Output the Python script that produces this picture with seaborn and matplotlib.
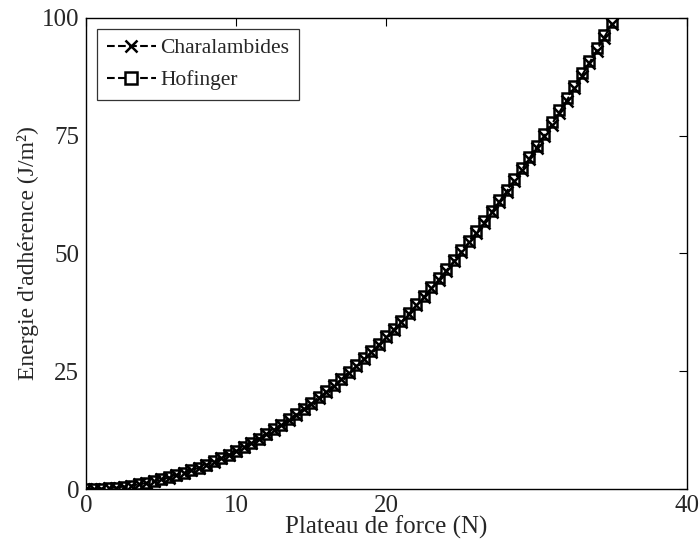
import numpy as np
import pandas as pd
import matplotlib
matplotlib.use("Agg")
import matplotlib.pyplot as plt
import seaborn as sns

# Plateau de force (N), one point every 0.5 N
force = [0.0, 0.5, 1.0, 1.5, 2.0, 2.5, 3.0, 3.5, 4.0, 4.5,
         5.0, 5.5, 6.0, 6.5, 7.0, 7.5, 8.0, 8.5, 9.0, 9.5,
         10.0, 10.5, 11.0, 11.5, 12.0, 12.5, 13.0, 13.5, 14.0, 14.5,
         15.0, 15.5, 16.0, 16.5, 17.0, 17.5, 18.0, 18.5, 19.0, 19.5,
         20.0, 20.5, 21.0, 21.5, 22.0, 22.5, 23.0, 23.5, 24.0, 24.5,
         25.0, 25.5, 26.0, 26.5, 27.0, 27.5, 28.0, 28.5, 29.0, 29.5,
         30.0, 30.5, 31.0, 31.5, 32.0, 32.5, 33.0, 33.5, 34.0, 34.5,
         35.0]

# Energie d'adherence (J/m2)
hofinger = [0.00, 0.02, 0.08, 0.18, 0.32, 0.51, 0.73, 0.99, 1.30, 1.64,
            2.03, 2.45, 2.92, 3.42, 3.97, 4.56, 5.18, 5.85, 6.56, 7.31,
            8.10, 8.93, 9.80, 10.71, 11.66, 12.66, 13.69, 14.76, 15.88, 17.03,
            18.23, 19.46, 20.74, 22.05, 23.41, 24.81, 26.24, 27.72, 29.24, 30.80,
            32.40, 34.04, 35.72, 37.44, 39.20, 41.01, 42.85, 44.73, 46.66, 48.62,
            50.63, 52.67, 54.76, 56.88, 59.05, 61.26, 63.50, 65.79, 68.12, 70.49,
            72.90, 75.35, 77.84, 80.37, 82.94, 85.56, 88.21, 90.90, 93.64, 96.41,
            99.23]

charalambides = [0.00, 0.02, 0.08, 0.18, 0.32, 0.51, 0.73, 0.98, 1.29, 1.63,
                 2.02, 2.44, 2.90, 3.40, 3.95, 4.53, 5.15, 5.81, 6.52, 7.27,
                 8.05, 8.88, 9.74, 10.65, 11.59, 12.58, 13.61, 14.67, 15.78, 16.93,
                 18.12, 19.34, 20.62, 21.92, 23.27, 24.66, 26.08, 27.55, 29.06, 30.62,
                 32.21, 33.84, 35.51, 37.22, 38.96, 40.76, 42.59, 44.46, 46.38, 48.33,
                 50.33, 52.35, 54.43, 56.54, 58.70, 60.89, 63.12, 65.40, 67.71, 70.07,
                 72.46, 74.90, 77.37, 79.89, 82.44, 85.05, 87.68, 90.35, 93.08, 95.83,
                 98.63]

x_ticks = [0, 10, 20, 40]
y_ticks = [0, 25, 50, 75, 100]

sns.set_style("white")
plt.rcParams['font.family'] = ['Liberation Serif', 'DejaVu Serif']
plt.rcParams['xtick.direction'] = 'in'
plt.rcParams['ytick.direction'] = 'in'

fig = plt.figure(figsize=(7.0, 5.51), dpi=100)
ax = fig.add_axes([0.123, 0.1125, 0.858, 0.855])

df = pd.DataFrame({"force": force, "charalambides": charalambides, "hofinger": hofinger})

# x markers sit on top of the squares, as in the original
sns.lineplot(data=df, x="force", y="charalambides", ax=ax, color="black",
             linestyle="--", linewidth=1.5, marker="x", markersize=9,
             markeredgewidth=1.8, markeredgecolor="black", label="Charalambides",
             zorder=4)
sns.lineplot(data=df, x="force", y="hofinger", ax=ax, color="black",
             linestyle="--", linewidth=1.5, marker="s", markersize=7,
             markeredgewidth=1.8, markerfacecolor="white", markeredgecolor="black",
             label="Hofinger", zorder=3)

ax.set_xlim(0, 40)
ax.set_ylim(0, 100)
ax.set_xticks(x_ticks)
ax.set_yticks(y_ticks)
ax.tick_params(axis='both', labelsize=18, length=6, width=0.8, color='black',
               top=True, right=True)
ax.tick_params(axis='x', pad=4)
ax.tick_params(axis='y', pad=5)
for s in ax.spines.values():
    s.set_color('black')
    s.set_linewidth(1.0)
    s.set_zorder(5)

ax.set_xlabel("Plateau de force (N)", fontsize=18, labelpad=-1)
ax.set_ylabel("Energie d'adhérence (J/m²)", fontsize=17, labelpad=2)

leg = ax.legend(loc="upper left", fontsize=15.5, frameon=True, fancybox=False,
                edgecolor="black", borderaxespad=0.5, handlelength=2.3,
                handletextpad=0.2, borderpad=0.45, labelspacing=0.55)
leg.get_frame().set_linewidth(0.9)
leg.set_zorder(6)
for h in leg.legend_handles:
    h.set_markersize(9)

fig.savefig("out.png", dpi=100)
